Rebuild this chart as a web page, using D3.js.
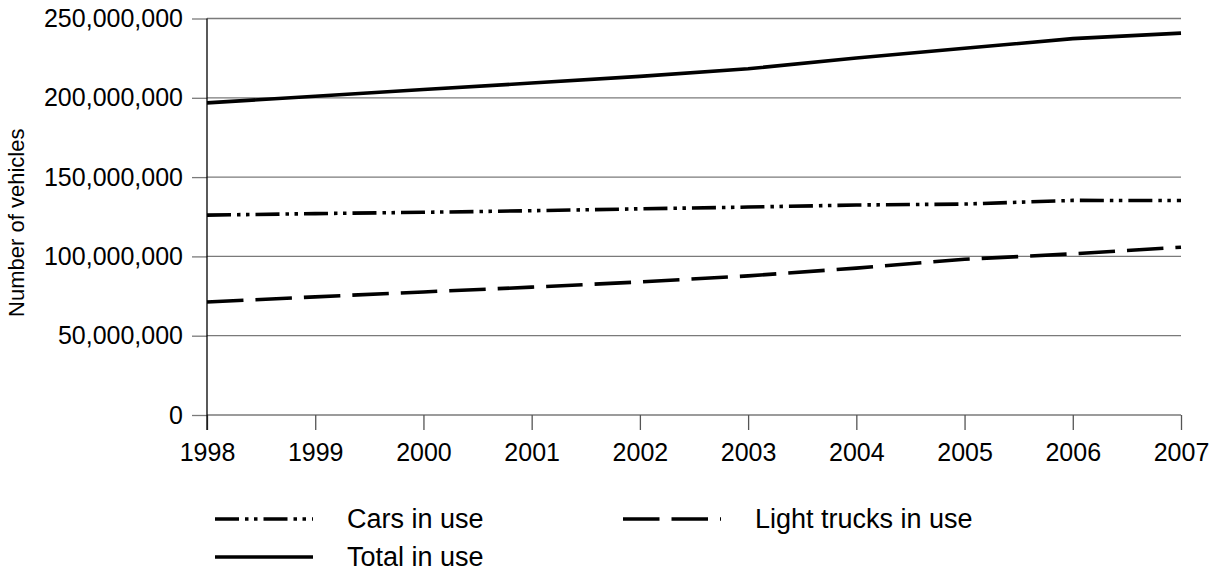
<!DOCTYPE html>
<html>
<head>
<meta charset="utf-8">
<script src="https://cdn.jsdelivr.net/npm/d3@7"></script>
<style>
  html, body { margin: 0; padding: 0; background: #fff; }
  svg { display: block; font-family: "Liberation Sans", Arial, sans-serif; }
</style>
</head>
<body>
<svg id="chart" width="1217" height="574"></svg>
<script>
const years = [1998, 1999, 2000, 2001, 2002, 2003, 2004, 2005, 2006, 2007];
const totalInUse = [196.8e6, 201.0e6, 205.2e6, 209.3e6, 213.5e6, 218.3e6, 225.1e6, 231.2e6, 237.3e6, 240.8e6];
const carsInUse = [126.0e6, 127.0e6, 127.8e6, 128.8e6, 130.0e6, 131.1e6, 132.4e6, 133.0e6, 135.3e6, 135.2e6];
const lightTrucksInUse = [71.2e6, 74.5e6, 77.6e6, 80.6e6, 83.9e6, 87.7e6, 92.6e6, 98.2e6, 101.6e6, 105.8e6];
const yTicks = [0, 50e6, 100e6, 150e6, 200e6, 250e6];
const seriesNames = ["Cars in use", "Light trucks in use", "Total in use"];

const svg = d3.select("#chart");
const pLeft = 207, pRight = 1181, pTop = 18.5, pBottom = 415;

const x = d3.scaleLinear().domain([1998, 2007]).range([pLeft, pRight]);
const y = d3.scaleLinear().domain([0, 250e6]).range([pBottom, pTop]);

// gridlines + y axis
const yAxis = d3.axisLeft(y).tickValues(yTicks).tickSize(15).tickPadding(9)
  .tickFormat(d3.format(","));
const gy = svg.append("g").attr("transform", `translate(${pLeft},0)`).call(yAxis);
gy.select(".domain").remove();
gy.selectAll(".tick line").attr("stroke", "#7a7a7a").attr("stroke-width", 1.3);
gy.selectAll(".tick text").attr("font-size", 25).attr("fill", "#000")
  .attr("font-family", "'Liberation Sans', Arial, sans-serif");

svg.append("g").selectAll("line").data(yTicks).join("line")
  .attr("x1", pLeft).attr("x2", pRight)
  .attr("y1", d => y(d)).attr("y2", d => y(d))
  .attr("stroke", "#7a7a7a").attr("stroke-width", 1.3);

// x axis
const xAxis = d3.axisBottom(x).tickValues(years).tickSize(15).tickPadding(13).tickFormat(d3.format("d"));
const gx = svg.append("g").attr("transform", `translate(0,${pBottom})`).call(xAxis);
gx.select(".domain").remove();
gx.selectAll(".tick line").attr("stroke", "#555").attr("stroke-width", 1.3);
gx.selectAll(".tick text").attr("font-size", 25).attr("fill", "#000")
  .attr("font-family", "'Liberation Sans', Arial, sans-serif");

// y axis line
svg.append("line").attr("x1", pLeft).attr("x2", pLeft).attr("y1", pTop).attr("y2", pBottom + 15)
  .attr("stroke", "#000").attr("stroke-width", 1.3);

// y title
svg.append("text")
  .attr("transform", `translate(24,${(pTop + pBottom) / 2 + 6}) rotate(-90)`)
  .attr("text-anchor", "middle").attr("font-size", 22).attr("fill", "#000")
  .text("Number of vehicles");

const dashes = {
  "Cars in use": "24,6,3.5,5.5,3.5,6",
  "Light trucks in use": "36.5,12",
  "Total in use": null
};
const data = {
  "Cars in use": carsInUse,
  "Light trucks in use": lightTrucksInUse,
  "Total in use": totalInUse
};

const line = d3.line().x((d, i) => x(years[i])).y(d => y(d));
seriesNames.forEach(name => {
  svg.append("path").datum(data[name])
    .attr("d", line).attr("fill", "none").attr("stroke", "#000")
    .attr("stroke-width", 3.6)
    .attr("stroke-dasharray", dashes[name]);
});

// legend
const legendItems = [
  { name: "Cars in use", lx: 215, ly: 519 },
  { name: "Light trucks in use", lx: 623, ly: 519 },
  { name: "Total in use", lx: 215, ly: 557 }
];
const lg = svg.append("g");
legendItems.forEach(it => {
  lg.append("line").attr("x1", it.lx).attr("x2", it.lx + 98)
    .attr("y1", it.ly).attr("y2", it.ly)
    .attr("stroke", "#000").attr("stroke-width", 3.6)
    .attr("stroke-dasharray", dashes[it.name]);
  lg.append("text").attr("x", it.lx + 132).attr("y", it.ly + 9)
    .attr("font-size", 27).attr("fill", "#000").text(it.name);
});
</script>
</body>
</html>
